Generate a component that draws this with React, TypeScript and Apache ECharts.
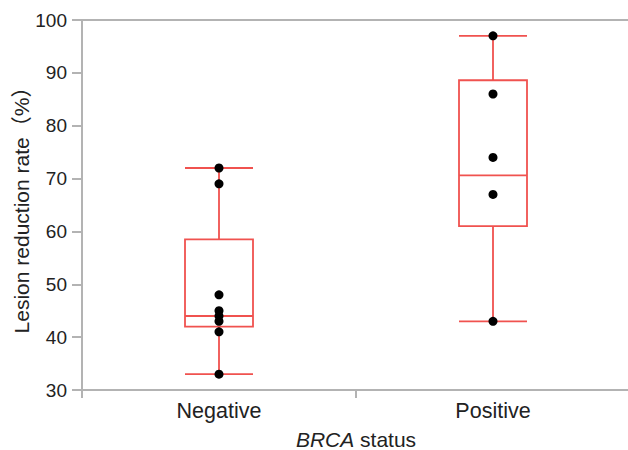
import React, { useEffect, useRef } from "react";
import * as echarts from "echarts";

const categories = ["Negative", "Positive"];
// [min, Q1, median, Q3, max]
const boxStats = [
  [33, 42, 44, 58.5, 72],
  [43, 61, 70.6, 88.6, 97],
];
const negativePoints = [72, 69, 48, 45, 44, 43, 41, 33];
const positivePoints = [97, 86, 74, 67, 43];
const yTicks = { min: 30, max: 100, interval: 10 };

const FONT = '"Liberation Sans", Arial, "Noto Sans CJK JP", sans-serif';
const AXIS_GREY = "#b3b3b3";
const RED = "#f0524f";

export default function App() {
  const ref = useRef<HTMLDivElement>(null);
  useEffect(() => {
    if (!ref.current) return;
    const chart = echarts.init(ref.current, undefined, { renderer: "svg" });
    const scatterData = [
      ...negativePoints.map((v) => [0, v]),
      ...positivePoints.map((v) => [1, v]),
    ];
    chart.setOption({
      animation: false,
      grid: {
        left: 82,
        top: 20,
        width: 548,
        height: 370,
        containLabel: false,
        outerBoundsMode: "none",
        show: true,
        borderColor: AXIS_GREY,
        borderWidth: 2,
        backgroundColor: "transparent",
      },
      xAxis: {
        type: "category",
        data: categories,
        name: "{i|BRCA} status",
        nameLocation: "middle",
        nameGap: 39,
        nameMoveOverlap: false,
        nameTextStyle: {
          fontFamily: FONT,
          fontSize: 21,
          color: "#222",
          rich: {
            i: { fontStyle: "italic", fontFamily: FONT, fontSize: 21, color: "#222" },
          },
        },
        axisLine: { lineStyle: { color: AXIS_GREY, width: 2 } },
        axisTick: { show: true, length: 8, lineStyle: { color: AXIS_GREY, width: 2 } },
        axisLabel: { fontFamily: FONT, fontSize: 21.5, color: "#222", margin: 10 },
        splitLine: { show: false },
      },
      yAxis: {
        type: "value",
        min: yTicks.min,
        max: yTicks.max,
        interval: yTicks.interval,
        name: "Lesion reduction rate（%）",
        nameLocation: "middle",
        nameGap: 50,
        nameMoveOverlap: false,
        nameTextStyle: { fontFamily: FONT, fontSize: 21, color: "#222" },
        axisLine: { show: true, lineStyle: { color: AXIS_GREY, width: 2 } },
        axisTick: { show: true, length: 10, lineStyle: { color: AXIS_GREY, width: 2 } },
        axisLabel: {
          fontFamily: FONT,
          fontSize: 19,
          color: "#222",
          margin: 15,
        },
        splitLine: { show: false },
      },
      series: [
        {
          type: "boxplot",
          data: boxStats,
          boxWidth: [68, 68],
          itemStyle: { color: "transparent", borderColor: RED, borderWidth: 1.8 },
          silent: true,
        },
        {
          type: "scatter",
          data: scatterData,
          symbolSize: 9,
          itemStyle: { color: "#000", opacity: 1 },
          silent: true,
        },
      ],
    });
    return () => chart.dispose();
  }, []);
  return <div ref={ref} style={{ width: 628, height: 450, position: "absolute", left: 0, top: 0 }} />;
}
